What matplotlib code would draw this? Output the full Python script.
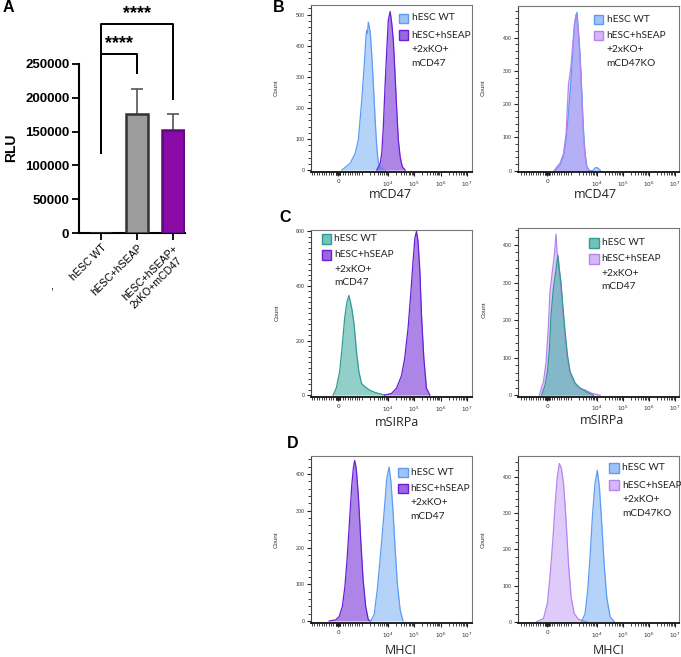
import matplotlib
matplotlib.use("Agg")
import matplotlib.pyplot as plt
import matplotlib.transforms as mtransforms
from matplotlib.ticker import AutoMinorLocator, FixedLocator
from matplotlib.patches import Rectangle
import numpy as np

# ---------------- Panel A data ----------------
categories = ["hESC WT", "hESC+hSEAP", "hESC+hSEAP+\n2xKO+mCD47"]
rlu_mean = [0, 176000, 153000]
rlu_sd = [0, 37000, 23000]
bar_fill = ["#ffffff", "#9c9c9c", "#8a0aa6"]
bar_edge = ["#333333", "#333333", "#5a0c7c"]
sig_labels = ["****", "****"]

# ---------------- Flow histogram data (position on logicle axis, count) ----------------
# x position: 4 = 10^4, 5 = 10^5 ..., 2.1 = 0
B1_WT_POS = [2.24, 2.56, 2.75, 2.87, 3.00, 3.09, 3.16, 3.19, 3.22, 3.25, 3.32, 3.38, 3.44, 3.51, 3.57, 3.63, 3.76, 3.89]
B1_WT_CNT = [0, 22, 54, 97, 225, 333, 429, 450, 440, 476, 445, 370, 278, 161, 75, 22, 8, 0]
B1_KI_POS = [3.57, 3.70, 3.76, 3.82, 3.89, 3.95, 4.01, 4.08, 4.14, 4.20, 4.27, 4.33, 4.39, 4.46, 4.54, 4.65]
B1_KI_CNT = [0, 22, 54, 139, 279, 386, 483, 510, 472, 418, 300, 193, 97, 43, 11, 0]

B2_WT_POS = [2.40, 2.59, 2.72, 2.82, 2.91, 3.00, 3.08, 3.14, 3.20, 3.24, 3.29, 3.36, 3.42, 3.48, 3.55, 3.62, 3.72, 3.85, 3.93, 4.00, 4.06, 4.15]
B2_WT_CNT = [0, 17, 42, 92, 173, 263, 363, 433, 468, 476, 423, 343, 243, 132, 52, 12, 0, 0, 8, 10, 6, 0]
B2_KO_POS = [2.35, 2.59, 2.72, 2.82, 2.91, 3.00, 3.08, 3.14, 3.20, 3.24, 3.29, 3.36, 3.42, 3.48, 3.55, 3.62, 3.72]
B2_KO_CNT = [0, 23, 52, 112, 258, 308, 383, 443, 468, 453, 418, 333, 223, 112, 42, 7, 0]

C1_WT_POS = [1.91, 2.03, 2.16, 2.25, 2.35, 2.44, 2.51, 2.57, 2.63, 2.71, 2.80, 2.89, 2.99, 3.11, 3.30, 3.49, 3.68, 3.87]
C1_WT_CNT = [0, 25, 86, 172, 282, 343, 365, 341, 312, 257, 159, 86, 43, 31, 18, 10, 5, 0]
C1_KI_POS = [3.87, 4.13, 4.32, 4.51, 4.63, 4.76, 4.86, 4.95, 5.02, 5.08, 5.14, 5.21, 5.27, 5.36, 5.46, 5.59]
C1_KI_CNT = [0, 6, 25, 71, 133, 245, 367, 490, 576, 600, 563, 453, 294, 135, 25, 0]

C2_WT_POS = [1.88, 2.01, 2.10, 2.18, 2.24, 2.33, 2.42, 2.50, 2.55, 2.62, 2.69, 2.78, 2.87, 2.97, 3.17, 3.36, 3.62, 3.87]
C2_WT_CNT = [0, 27, 63, 125, 214, 285, 329, 372, 338, 302, 240, 169, 107, 63, 32, 19, 8, 0]
C2_KI_POS = [1.79, 1.95, 2.05, 2.14, 2.20, 2.29, 2.37, 2.43, 2.47, 2.52, 2.59, 2.67, 2.74, 2.85, 2.95, 3.10, 3.29, 3.55, 3.81, 4.13]
C2_KI_CNT = [0, 36, 89, 187, 276, 329, 373, 429, 382, 364, 311, 249, 178, 107, 63, 36, 19, 14, 5, 0]

D1_KI_POS = [1.76, 2.01, 2.14, 2.26, 2.36, 2.45, 2.54, 2.62, 2.68, 2.73, 2.79, 2.87, 2.96, 3.05, 3.15, 3.25, 3.34]
D1_KI_CNT = [0, 3, 12, 39, 94, 177, 278, 370, 416, 437, 416, 342, 223, 113, 39, 3, 0]
D1_WT_POS = [3.34, 3.47, 3.59, 3.72, 3.85, 3.95, 4.04, 4.11, 4.19, 4.27, 4.35, 4.46, 4.57]
D1_WT_CNT = [0, 17, 85, 186, 297, 388, 419, 379, 297, 196, 104, 30, 0]

D2_KO_POS = [1.69, 1.95, 2.10, 2.20, 2.31, 2.40, 2.48, 2.56, 2.64, 2.72, 2.81, 2.91, 3.01, 3.13, 3.29, 3.62]
D2_KO_CNT = [0, 9, 51, 124, 225, 327, 400, 437, 423, 382, 290, 161, 69, 23, 7, 0]
D2_WT_POS = [3.42, 3.55, 3.65, 3.74, 3.83, 3.93, 4.02, 4.10, 4.19, 4.28, 4.38, 4.51, 4.67]
D2_WT_CNT = [0, 23, 87, 179, 290, 382, 418, 372, 271, 161, 69, 14, 0]

X_TICK_POS = [2.1, 4, 5, 6, 7]
X_TICK_LABELS = ["0", r"$10^{4}$", r"$10^{5}$", r"$10^{6}$", r"$10^{7}$"]

LEG_WT = "hESC WT"
LEG_KI = "hESC+hSEAP\n+2xKO+\nmCD47"
LEG_KO = "hESC+hSEAP\n+2xKO+\nmCD47KO"

# styles
BLUE = dict(edge="#5c9cf2", fill="#5c9cf2", alpha=0.45)
DPURP = dict(edge="#6a1ed6", fill="#7a3ad8", alpha=0.62)
LILAC = dict(edge="#b583f2", fill="#b583f2", alpha=0.42)
TEAL = dict(edge="#2f9c92", fill="#3aa89e", alpha=0.55)

W, H = 681, 657
fig = plt.figure(figsize=(W / 100, H / 100), dpi=100)


def add_ax(x0, y0, x1, y1):
    return fig.add_axes([x0 / W, 1 - y1 / H, (x1 - x0) / W, (y1 - y0) / H])


def fx(x):
    return x / W


def fy(y):
    return 1 - y / H


# ---------------- Panel A ----------------
axA = add_ax(79, 64, 185, 233)
xs = np.arange(len(categories))
axA.bar(xs, rlu_mean, width=0.61, color=bar_fill, edgecolor=bar_edge, linewidth=1.8, zorder=3)
top = np.array(rlu_mean) + np.array(rlu_sd)
for i in (1, 2):
    axA.vlines(xs[i], rlu_mean[i], top[i], color="#555555", lw=1.2, zorder=2)
    axA.hlines(top[i], xs[i] - 0.17, xs[i] + 0.17, color="#555555", lw=1.2, zorder=2)
axA.set_xlim(-0.61, 2.33)
axA.set_ylim(0, 250000)
axA.set_yticks([0, 50000, 100000, 150000, 200000, 250000])
axA.set_yticklabels(["0", "50000", "100000", "150000", "200000", "250000"],
                    fontfamily="Liberation Sans", fontweight="bold", fontsize=9.5)
axA.set_xticks(xs)
axA.set_xticklabels(categories, rotation=45, ha="right", va="top", rotation_mode="anchor",
                    fontfamily="Liberation Sans", fontsize=7.6, multialignment="left")
shifts = [(7, -1), (8, -1), (1, 0)]
for lab, (dx, dy) in zip(axA.get_xticklabels(), shifts):
    lab.set_transform(lab.get_transform() + mtransforms.ScaledTranslation(dx / 100, dy / 100, fig.dpi_scale_trans))
axA.tick_params(axis="both", length=5, width=1.3, pad=2, color="black")
for s in ("top", "right"):
    axA.spines[s].set_visible(False)
for s in ("left", "bottom"):
    axA.spines[s].set_linewidth(1.5)
fig.text(fx(11), fy(148), "RLU", fontfamily="Liberation Sans", fontweight="bold", fontsize=10,
         rotation=90, ha="center", va="center")
# significance brackets
b1 = [118000, 265000, 265000, 237000]
b2 = [118000, 309000, 309000, 198000]
axA.plot([0, 0, 1, 1], b1, color="black", lw=1.4, clip_on=False)
axA.plot([0, 0, 2, 2], b2, color="black", lw=1.4, clip_on=False)
axA.text(0.5, 268000, sig_labels[0], ha="center", va="bottom", fontsize=13, fontweight="bold",
         fontfamily="Liberation Sans", clip_on=False)
axA.text(1.0, 312000, sig_labels[1], ha="center", va="bottom", fontsize=13, fontweight="bold",
         fontfamily="Liberation Sans", clip_on=False)
fig.text(fx(8), fy(8), "A", fontsize=11.5, fontweight="bold", fontfamily="Liberation Sans",
         ha="center", va="center")
fig.text(fx(52), fy(287), ",", fontsize=8, fontfamily="Liberation Sans", ha="center", va="center")


# ---------------- Histogram helper ----------------
def minor_positions():
    pos = []
    for d in (3, 4, 5, 6):
        for k in range(2, 10):
            pos.append(d + np.log10(k))
    for v in range(100, 1000, 100):
        pos.append(2.1 + 0.9 * v / 1000)
        pos.append(2.1 - 0.9 * v / 1000)
    for v in range(10, 100, 20):
        pos.append(2.1 + 0.9 * v / 1000)
        pos.append(2.1 - 0.9 * v / 1000)
    pos += [3.0, 1.2, 1.1]
    return pos


def hist_panel(box, xlim, ylim, ymajor, yminor_n, series, legend, xlabel, xlabel_xy, count_xy):
    ax = add_ax(*box)
    for pos, cnt, sty in series:
        ax.fill_between(pos, cnt, 0, color=sty["fill"], alpha=sty["alpha"], lw=0)
        ax.plot(pos, cnt, color=sty["edge"], lw=0.9)
    ax.set_xlim(*xlim)
    ax.set_ylim(*ylim)
    ax.xaxis.set_major_locator(FixedLocator(X_TICK_POS))
    ax.set_xticklabels(X_TICK_LABELS, fontsize=4.2, color="#333333")
    ax.xaxis.set_minor_locator(FixedLocator(minor_positions()))
    ax.set_yticks(ymajor)
    ax.set_yticklabels([str(v) for v in ymajor], fontsize=3.8, color="#333333",
                       fontfamily="Liberation Sans")
    ax.yaxis.set_minor_locator(AutoMinorLocator(yminor_n))
    ax.tick_params(axis="both", which="major", length=3.2, width=0.8, pad=1.5, color="#222222")
    ax.tick_params(axis="both", which="minor", length=2.0, width=0.6, color="#222222")
    ax.tick_params(axis="x", which="major", pad=2.0)
    for s in ("top", "right"):
        ax.spines[s].set_color("#777777")
        ax.spines[s].set_linewidth(0.8)
    ax.spines["left"].set_color("#444444")
    ax.spines["left"].set_linewidth(0.8)
    ax.spines["bottom"].set_color("#111111")
    ax.spines["bottom"].set_linewidth(1.3)
    # legend
    (bx0, bx1, tx, y1, y2), entries = legend
    bs = bx1 - bx0
    for (label, sty), yy in zip(entries, (y1, y2)):
        fig.patches.append(Rectangle((fx(bx0), fy(yy + bs / 2)), bs / W, bs / H, transform=fig.transFigure,
                                     facecolor=sty["fill"], alpha=sty["alpha"] + 0.15, edgecolor="none"))
        fig.patches.append(Rectangle((fx(bx0), fy(yy + bs / 2)), bs / W, bs / H, transform=fig.transFigure,
                                     facecolor="none", edgecolor=sty["edge"], lw=1.0))
        for j, line in enumerate(label.split("\n")):
            fig.text(fx(tx), fy(yy + 14 * j), line, fontsize=7.3, fontfamily="Lato",
                     ha="left", va="center", color="#222222")
    fig.text(fx(xlabel_xy[0]), fy(xlabel_xy[1]), xlabel, fontsize=9, fontfamily="Open Sans",
             ha="center", va="center", color="#222222")
    fig.text(fx(count_xy[0]), fy(count_xy[1]), "Count", fontsize=4.5, fontfamily="Liberation Sans",
             rotation=90, ha="center", va="center", color="#333333")
    return ax


XL_L = (1.07, 7.18)
XL_R = (0.97, 7.16)

# B left
hist_panel((311, 5, 471.7, 172), XL_L, (-6, 531), [0, 100, 200, 300, 400, 500], 5,
           [(B1_WT_POS, B1_WT_CNT, BLUE), (B1_KI_POS, B1_KI_CNT, DPURP)],
           ((399, 408, 411.7, 18, 35), [(LEG_WT, BLUE), (LEG_KI, DPURP)]),
           "mCD47", (390, 194), (276, 88))
# B right
hist_panel((518, 5.7, 679, 172), XL_R, (-4, 496), [0, 100, 200, 300, 400], 5,
           [(B2_WT_POS, B2_WT_CNT, BLUE), (B2_KO_POS, B2_KO_CNT, LILAC)],
           ((593.5, 603, 606.7, 19.3, 35.7), [(LEG_WT, BLUE), (LEG_KO, LILAC)]),
           "mCD47", (595, 195), (483, 88))
# C left
hist_panel((311, 230, 471.7, 397), XL_L, (-7, 605), [0, 200, 400, 600], 10,
           [(C1_WT_POS, C1_WT_CNT, TEAL), (C1_KI_POS, C1_KI_CNT, DPURP)],
           ((321.7, 331, 334, 239, 255), [(LEG_WT, TEAL), (LEG_KI, DPURP)]),
           "mSIRPa", (397, 423), (277, 313))
# C right
hist_panel((518, 227.7, 679, 396.7), XL_R, (-4, 446), [0, 100, 200, 300, 400], 5,
           [(C2_KI_POS, C2_KI_CNT, LILAC), (C2_WT_POS, C2_WT_CNT, TEAL)],
           ((589, 598.5, 601.7, 243, 259), [(LEG_WT, TEAL), (LEG_KI, LILAC)]),
           "mSIRPa", (602, 421), (484, 310))
# D left
hist_panel((311, 455.7, 471.7, 623), XL_L, (-5.5, 450), [0, 100, 200, 300, 400], 5,
           [(D1_KI_POS, D1_KI_CNT, DPURP), (D1_WT_POS, D1_WT_CNT, BLUE)],
           ((398.3, 407.5, 410.7, 472.3, 488.3), [(LEG_WT, BLUE), (LEG_KI, DPURP)]),
           "MHCI", (401, 650), (276, 540))
# D right
hist_panel((518, 455.7, 679, 623), XL_R, (-3.5, 458.6), [0, 100, 200, 300, 400], 5,
           [(D2_KO_POS, D2_KO_CNT, LILAC), (D2_WT_POS, D2_WT_CNT, BLUE)],
           ((609, 619, 622.3, 468, 485), [(LEG_WT, BLUE), (LEG_KO, LILAC)]),
           "MHCI", (609, 650), (483, 540))

for lab, (x, y) in zip(["B", "C", "D"], [(278.5, 8), (285, 217), (292.5, 443.5)]):
    fig.text(fx(x), fy(y), lab, fontsize=11.5, fontweight="bold", fontfamily="Liberation Sans",
             ha="center", va="center")

fig.savefig("out.png", dpi=100, facecolor="white")
